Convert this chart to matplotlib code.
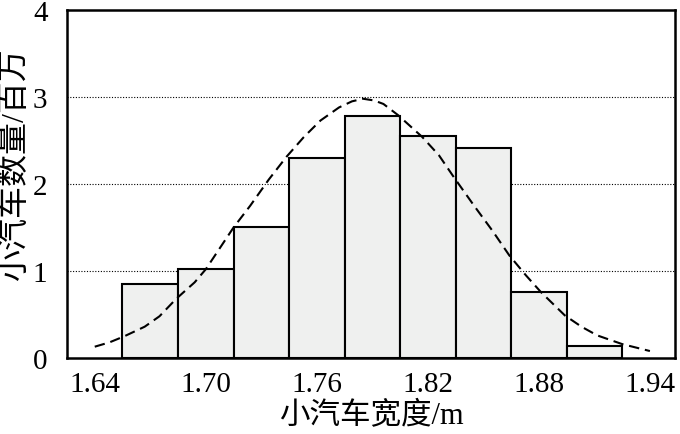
import matplotlib
matplotlib.use('Agg')
import matplotlib.pyplot as plt

# Histogram bins (car width in m) and counts (millions)
bin_left = [1.655, 1.685, 1.715, 1.745, 1.775, 1.805, 1.835, 1.865, 1.895]
bin_width = 0.03
counts = [0.85, 1.02, 1.51, 2.30, 2.78, 2.55, 2.41, 0.76, 0.14]

# Fitted curve, points
curve_x = [1.640, 1.648, 1.656, 1.661, 1.667, 1.675, 1.684, 1.694, 1.700, 1.715,
           1.724, 1.734, 1.7435, 1.753, 1.762, 1.772, 1.779, 1.785, 1.791, 1.796,
           1.804, 1.817, 1.826, 1.834, 1.845, 1.855, 1.864, 1.873, 1.881, 1.894,
           1.903, 1.9115, 1.925, 1.940]
curve_y = [0.13, 0.18, 0.25, 0.30, 0.36, 0.48, 0.68, 0.87, 1.02, 1.50,
           1.75, 2.05, 2.31, 2.54, 2.73, 2.88, 2.95, 2.98, 2.96, 2.92,
           2.79, 2.54, 2.33, 2.08, 1.75, 1.46, 1.18, 0.95, 0.76, 0.49,
           0.36, 0.26, 0.16, 0.08]

x_ticks = [1.64, 1.70, 1.76, 1.82, 1.88, 1.94]
y_ticks = [0, 1, 2, 3, 4]

serif_cjk = ['Liberation Serif', 'Noto Sans CJK SC']

fig = plt.figure(figsize=(6.8, 4.35), dpi=100)
ax = fig.add_axes([0.0985, 0.1747, 0.894, 0.80])

ax.bar(bin_left, counts, width=bin_width, align='edge', color='#eff0ef',
       edgecolor='black', linewidth=1.5, zorder=2)
ax.plot(curve_x, curve_y, color='black', linewidth=1.5, dashes=(5, 2.8), zorder=3)

for g in [1, 2, 3]:
    ax.axhline(g, color='black', linewidth=0.8, linestyle=(0, (1, 1.5)), zorder=1)

ax.set_xlim(1.625, 1.9535)
ax.set_ylim(0, 4)
ax.set_xticks(x_ticks)
ax.set_xticklabels([f'{v:.2f}' for v in x_ticks])
ax.set_yticks(y_ticks)
ax.tick_params(axis='x', length=0, pad=9)
ax.tick_params(axis='y', length=0, pad=14)
for lab in ax.get_xticklabels() + ax.get_yticklabels():
    lab.set_family('Liberation Serif')
    lab.set_fontsize(21)

for s in ax.spines.values():
    s.set_linewidth(1.8)

fig.text(371 / 680, 1 - 417 / 435, '小汽车宽度/m', family=serif_cjk, fontsize=22,
         ha='center', va='center')
fig.text(16 / 680, 1 - 165 / 435, '小汽车数量/百万', family=serif_cjk, fontsize=23,
         ha='center', va='center', rotation=90)

fig.savefig('out.png', dpi=100)
